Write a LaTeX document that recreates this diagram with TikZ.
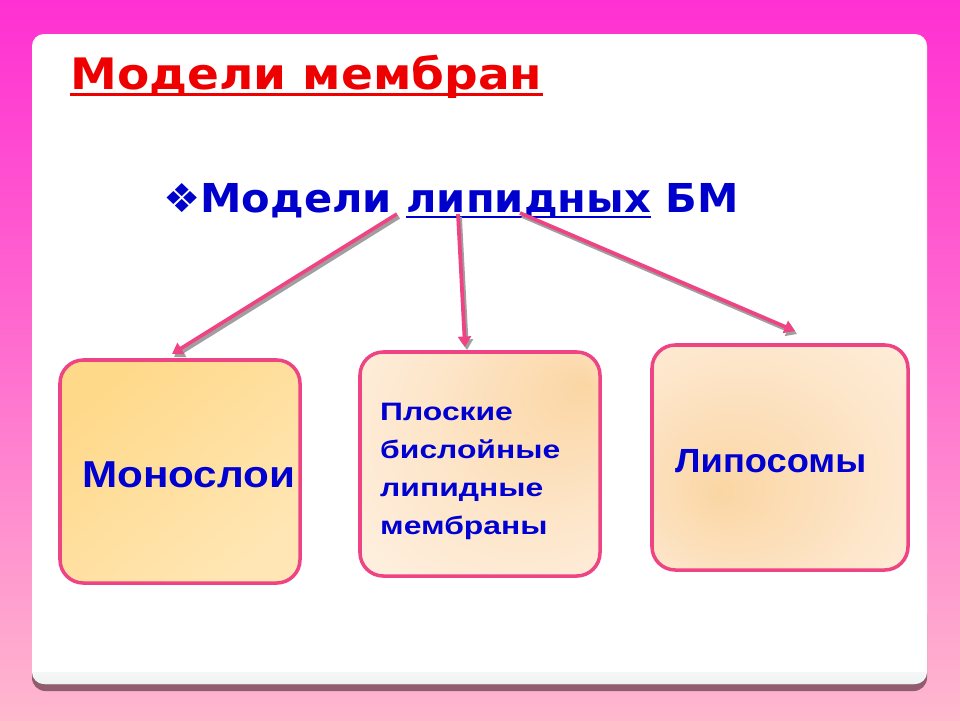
\documentclass[tikz,border=0pt]{standalone}
\usepackage{fontspec}
\usepackage{graphicx}
\usetikzlibrary{arrows.meta,shadings}
\newfontfamily\dvs{DejaVu Sans}
\newfontfamily\libs{Liberation Sans}
\definecolor{bgtop}{HTML}{FF30D2}
\definecolor{bgmid}{HTML}{FF6FCF}
\definecolor{bgbot}{HTML}{FFB8CE}
\definecolor{titlered}{HTML}{EE0000}
\definecolor{subblue}{HTML}{0000CC}
\definecolor{boxblue}{HTML}{0000D0}
\definecolor{pinkline}{HTML}{EE4484}
\definecolor{panelshadow}{HTML}{8F5D6E}
\definecolor{panelfoot}{HTML}{EEF3F2}
\definecolor{peach}{HTML}{FBD6A4}
\definecolor{peachmid}{HTML}{FDE5C8}
\definecolor{peachout}{HTML}{FFF6EE}
\definecolor{yelA}{HTML}{FFD98A}
\definecolor{yelB}{HTML}{FFE6B4}
\pgfdeclareradialshading{glowA}{\pgfpoint{22bp}{18bp}}{color(0bp)=(peach); color(22bp)=(peachmid); color(52bp)=(peachout)}
\pgfdeclareradialshading{glowB}{\pgfpoint{-12bp}{-8bp}}{color(0bp)=(peach); color(25bp)=(peachmid); color(55bp)=(peachout)}
\newcommand\myul[1]{\setbox0\hbox{#1}\rlap{\rule[-5pt]{\wd0}{1.8pt}}\box0\relax}
\begin{document}
\begin{tikzpicture}[x=0.03cm,y=-0.03cm,
  boxstyle/.style={draw=pinkline, line width=3pt, rounded corners=0.7cm, inner sep=0pt},
  pinkarrow/.style={draw=pinkline, line width=3.2pt, -{Triangle[length=9pt,width=11pt]}},
  arrowshadow/.style={draw=gray!75, line width=3.2pt, -{Triangle[length=9pt,width=11pt]}},
  boxtext/.style={inner sep=0pt, text=boxblue, font=\libs\bfseries}]
\useasboundingbox (0,0) rectangle (960,720);
\shade[top color=bgtop, bottom color=bgbot, middle color=bgmid] (0,0) rectangle (960,720);
% panel
\fill[panelshadow, rounded corners=0.4cm] (32,600) rectangle (927,691);
\fill[white, rounded corners=0.36cm] (32,34) rectangle (927,684);
\shade[top color=white, bottom color=panelfoot, rounded corners=0.36cm] (33,650) rectangle (926,684);
\fill[white] (33,650) rectangle (926,672);
% title
\node[anchor=base west, inner sep=0pt, text=titlered] (title) at (70,89)
  {\resizebox{403pt}{\height}{\fontsize{37}{40}\selectfont\dvs\bfseries Модели мембран}};
\draw[titlered, line width=2.6pt] ([yshift=-4.7pt]title.base west) -- ([yshift=-4.7pt]title.base east);
% subtitle
\node[anchor=base west, inner sep=0pt, text=subblue] (sub) at (163,212)
  {\resizebox{491pt}{\height}{\fontsize{34}{38}\selectfont{\dvs ❖}{\dvs\bfseries Модели \myul{липидных} БМ}}};
% boxes
\node[boxstyle, shade, shading=axis, top color=yelA, bottom color=yelB, shading angle=40,
      minimum width=7.2cm, minimum height=6.69cm] (b1) at (180,471.5) {};
\node[boxstyle, shade, shading=glowA, minimum width=7.2cm, minimum height=6.72cm] (b2) at (480,464) {};
\node[boxstyle, shade, shading=glowB, minimum width=7.68cm, minimum height=6.75cm] (b3) at (780,457.5) {};
% texts
\node[boxtext, anchor=base west] (t1) at (82,487)
  {\resizebox{182pt}{\height}{\fontsize{32}{36}\selectfont Монослои}};
\node[boxtext, anchor=north west] (t2) at (380,393.4)
  {\resizebox{153.6pt}{\height}{\fontsize{21.5}{32.4}\selectfont\begin{tabular}{@{}l@{}}Плоские\\бислойные\\липидные\\мембраны\end{tabular}}};
\node[boxtext, anchor=base west] (t3) at (675,472)
  {\resizebox{163pt}{\height}{\fontsize{28.6}{32}\selectfont Липосомы}};
% arrow ends
\coordinate (s1) at (397,214);
\coordinate (s2) at (458,214);
\coordinate (s3) at (520,213);
\coordinate (e1) at (172,354);
\coordinate (e2) at (465,347);
\coordinate (e3) at (795,331);
\foreach \s/\e in {s1/e1,s2/e2,s3/e3}{
  \draw[arrowshadow] ([shift={(2,3)}]\s) -- ([shift={(2,3)}]\e);
  \draw[pinkarrow] (\s) -- (\e);
}
\end{tikzpicture}
\end{document}
